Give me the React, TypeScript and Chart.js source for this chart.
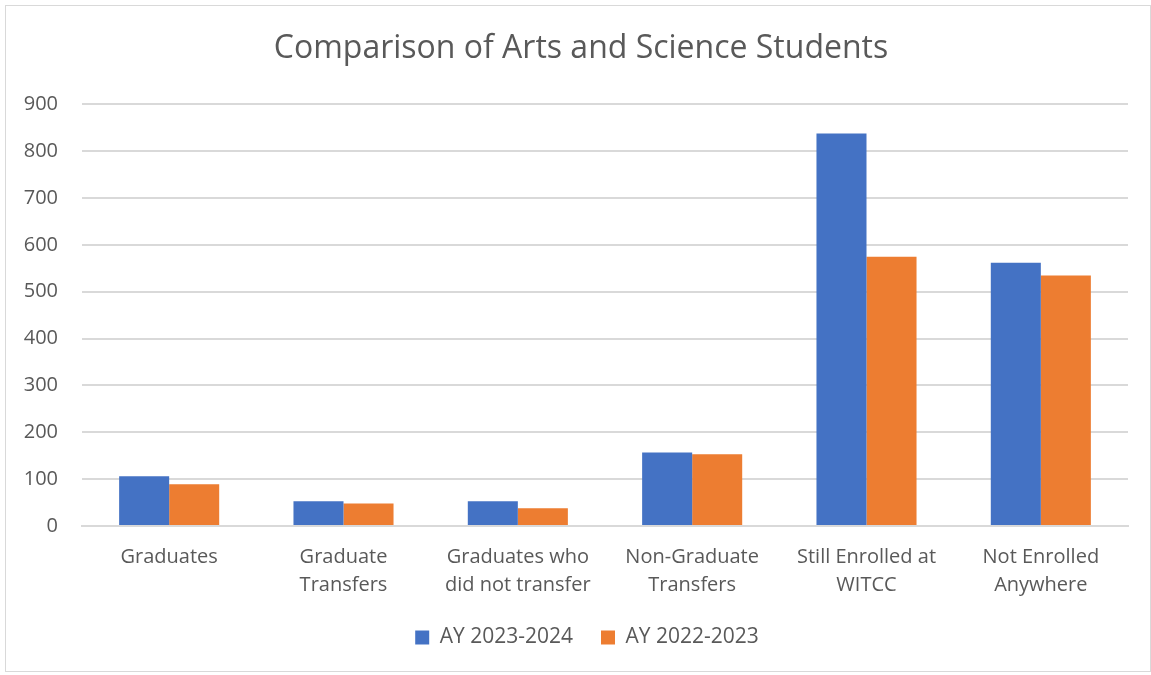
import React, { useEffect, useRef } from "react";
import { Chart, registerables } from "chart.js";

Chart.register(...registerables);

const categories: (string | string[])[] = [
  "Graduates",
  ["Graduate", "Transfers"],
  ["Graduates who", "did not transfer"],
  ["Non-Graduate", "Transfers"],
  ["Still Enrolled at", "WITCC"],
  ["Not Enrolled", "Anywhere"],
];
const seriesNames = ["AY 2023-2024", "AY 2022-2023"];
const ay2324 = [106, 53, 53, 157, 838, 562];
const ay2223 = [89, 48, 38, 153, 575, 535];
const yMax = 900;
const yStep = 100;
const title = "Comparison of Arts and Science Students";

const FONT = "'Open Sans', sans-serif";
const TEXT = "#595959";

const shiftBoxes = {
  id: "shiftBoxes",
  afterLayout(chart: any) {
    const l = chart.legend;
    if (l) {
      l.left += 20;
      l.right += 20;
      l.top -= 17;
      l.bottom -= 17;
    }
    const t = chart.titleBlock;
    if (t) {
      t.left += 14;
      t.right += 14;
    }
  },
};

export default function App() {
  const ref = useRef<HTMLCanvasElement | null>(null);
  useEffect(() => {
    if (!ref.current) return;
    const chart = new Chart(ref.current, {
      type: "bar",
      data: {
        labels: categories,
        datasets: [
          { label: seriesNames[0], data: ay2324, backgroundColor: "#4472C4" },
          { label: seriesNames[1], data: ay2223, backgroundColor: "#ED7D31" },
        ],
      },
      plugins: [shiftBoxes],
      options: {
        animation: false,
        responsive: false,
        maintainAspectRatio: false,
        layout: { padding: { left: 0, right: 22, top: 14, bottom: -4 } },
        datasets: { bar: { categoryPercentage: 0.574, barPercentage: 1 } },
        plugins: {
          tooltip: { enabled: false },
          title: {
            display: true,
            text: title,
            color: TEXT,
            font: { family: FONT, size: 32, weight: "normal" },
            padding: { top: 10, bottom: 36 },
          },
          legend: {
            position: "bottom",
            labels: {
              color: TEXT,
              font: { family: FONT, size: 21 },
              boxWidth: 14,
              boxHeight: 14,
              padding: 28,
            },
          },
        },
        scales: {
          x: {
            grid: { display: false, drawTicks: false },
            border: { display: true, color: "#d9d9d9", width: 2 },
            ticks: {
              color: TEXT,
              font: { family: FONT, size: 20, lineHeight: 1.4 },
              padding: 17,
              maxRotation: 0,
              autoSkip: false,
            },
          },
          y: {
            min: 0,
            max: yMax,
            afterFit: (scale: any) => {
              scale.width = 76;
            },
            grid: { color: "#d9d9d9", lineWidth: 2, drawTicks: false },
            border: { display: false },
            ticks: {
              stepSize: yStep,
              color: TEXT,
              font: { family: FONT, size: 20 },
              padding: 24,
            },
          },
        },
      },
    } as any);
    return () => chart.destroy();
  }, []);
  return (
    <div style={{ position: "fixed", left: 0, top: 0, width: 1151, height: 675, background: "#fff" }}>
      <div
        style={{
          position: "absolute",
          left: 5,
          top: 5,
          width: 1144,
          height: 665,
          border: "1px solid #d9d9d9",
        }}
      >
        <canvas ref={ref} width={1144} height={665} style={{ display: "block" }} />
      </div>
    </div>
  );
}
